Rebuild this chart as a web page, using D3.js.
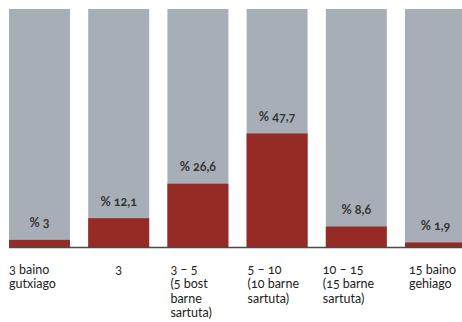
<!DOCTYPE html>
<html>
<head>
<meta charset="utf-8">
<script src="https://cdn.jsdelivr.net/npm/d3@7/dist/d3.min.js"></script>
<style>
html, body { margin: 0; padding: 0; background: #fff; overflow: hidden; }
svg { display: block; font-family: Lato, "Open Sans", sans-serif; font-variant-numeric: oldstyle-nums; font-feature-settings: "onum" 1; }
</style>
</head>
<body>
<svg id="chart" width="462" height="322"></svg>
<script>
const categories = ["3 baino gutxiago", "3", "3 – 5 (5 bost barne sartuta)", "5 – 10 (10 barne sartuta)", "10 – 15 (15 barne sartuta)", "15 baino gehiago"];
const categoryLines = [
  ["3 baino", "gutxiago"],
  ["3"],
  ["3 – 5", "(5 bost", "barne", "sartuta)"],
  ["5 – 10", "(10 barne", "sartuta)"],
  ["10 – 15", "(15 barne", "sartuta)"],
  ["15 baino", "gehiago"]
];
const values = [3, 12.1, 26.6, 47.7, 8.6, 1.9];
const valueLabels = ["% 3", "% 12,1", "% 26,6", "% 47,7", "% 8,6", "% 1,9"];
const total = 100;

const svg = d3.select("#chart");
const x = d3.scaleBand().domain(categories).range([9, 466]).paddingInner(0.23).paddingOuter(0);
const y = d3.scaleLinear().domain([0, total]).range([247, 9]);

// background (100%) bars
svg.append("g").selectAll("rect").data(categories).join("rect")
  .attr("x", d => x(d)).attr("width", x.bandwidth())
  .attr("y", y(total)).attr("height", y(0) - y(total))
  .attr("fill", "#a8aeb8");

// value bars
svg.append("g").selectAll("rect").data(values).join("rect")
  .attr("x", (d, i) => x(categories[i])).attr("width", x.bandwidth())
  .attr("y", d => y(d)).attr("height", d => y(0) - y(d))
  .attr("fill", "#952b24");

// value labels
svg.append("g").selectAll("text").data(values).join("text")
  .attr("x", (d, i) => x(categories[i]) + x.bandwidth() / 2)
  .attr("y", d => y(d) - 12.5)
  .attr("text-anchor", "middle")
  .attr("font-size", 12.5)
  .attr("font-weight", 700)
  .attr("fill", "#353535")
  .text((d, i) => valueLabels[i]);

// baseline
svg.append("line")
  .attr("x1", 9).attr("x2", 462)
  .attr("y1", y(0) + 0.5).attr("y2", y(0) + 0.5)
  .attr("stroke", "#4a4a4a").attr("stroke-width", 1.5);

// category labels
const nudge = [0, 0, 3, 1, -3, 4];
const cg = svg.append("g").selectAll("text").data(categories).join("text")
  .attr("font-size", 12.5)
  .attr("fill", "#222")
  .attr("text-anchor", (d, i) => categoryLines[i].length === 1 ? "middle" : "start")
  .attr("transform", (d, i) => {
    const bx = categoryLines[i].length === 1 ? x(d) + x.bandwidth() / 2 : x(d) + nudge[i];
    return `translate(${bx},273.5)`;
  });
cg.each(function(d, i) {
  d3.select(this).selectAll("tspan").data(categoryLines[i]).join("tspan")
    .attr("x", 0).attr("dy", (l, j) => j === 0 ? 0 : 14.6)
    .text(l => l);
});
</script>
</body>
</html>
